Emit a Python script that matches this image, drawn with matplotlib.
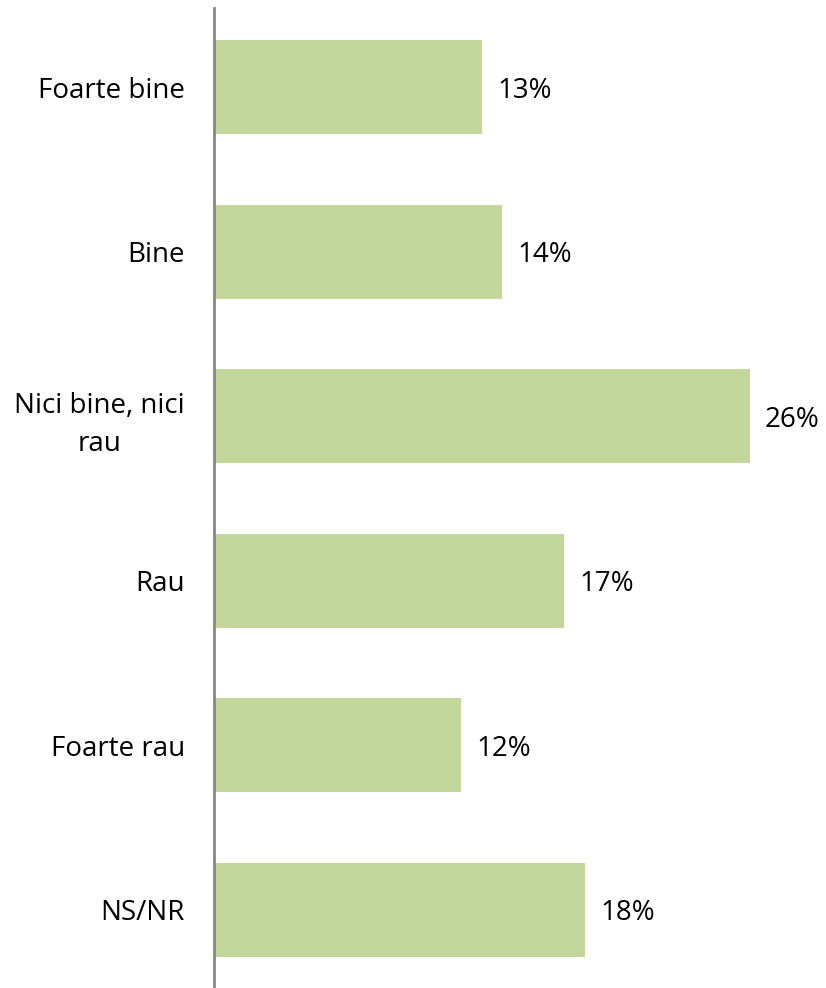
import matplotlib
matplotlib.use("Agg")
import matplotlib.pyplot as plt

categories = ["Foarte bine", "Bine", "Nici bine, nici\nrau", "Rau", "Foarte rau", "NS/NR"]
values = [13, 14, 26, 17, 12, 18]

plt.rcParams['font.family'] = ['Open Sans', 'DejaVu Sans']

fig = plt.figure(figsize=(8.26, 9.88), dpi=100)
ax = fig.add_axes([214 / 826, 0.0, (826 - 214) / 826, 980 / 988])

pos = list(range(len(categories)))
ax.barh(pos, values, height=0.57, color="#C4D79B")

for p, v in zip(pos, values):
    ax.text(v + 0.75, p, f"{v}%", va="center_baseline", ha="left", fontsize=20, color="black")

ax.set_yticks(pos)
ax.set_yticklabels(categories, fontsize=20, multialignment="center", linespacing=1.5)
ax.tick_params(axis="y", length=0, pad=21)
ax.set_xticks([])

ax.set_xlim(0, (826 - 214) / 20.6)
ax.set_ylim(5.474, -0.48)

for s in ["top", "right", "bottom"]:
    ax.spines[s].set_visible(False)
ax.spines["left"].set_color("#888888")
ax.spines["left"].set_linewidth(2)

fig.savefig("out.png", dpi=100)
